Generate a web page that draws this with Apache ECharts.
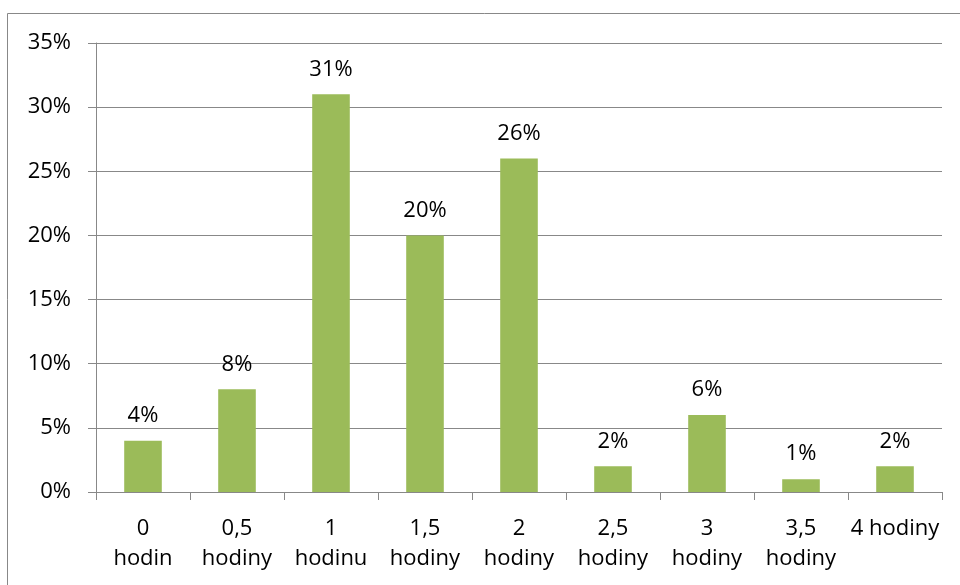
<!DOCTYPE html>
<html>
<head>
<meta charset="utf-8">
<script src="https://cdn.jsdelivr.net/npm/echarts@6/dist/echarts.min.js"></script>
<style>
  html, body { margin: 0; padding: 0; background: #fff; }
  #chart { width: 960px; height: 585px; }
</style>
</head>
<body>
<div id="chart"></div>
<script>
// Time spent, share of respondents
const categories = ['0\nhodin', '0,5\nhodiny', '1\nhodinu', '1,5\nhodiny', '2\nhodiny', '2,5\nhodiny', '3\nhodiny', '3,5\nhodiny', '4 hodiny'];
const shares = [4, 8, 31, 20, 26, 2, 6, 1, 2];
const yMin = 0;
const yMax = 35;
const yStep = 5;

const font = 'Open Sans';
const gridColor = '#888888';

const chart = echarts.init(document.getElementById('chart'), null, { renderer: 'canvas' });
chart.setOption({
  animation: false,
  backgroundColor: '#ffffff',
  textStyle: { fontFamily: font },
  grid: { left: 96, right: 18, top: 43, bottom: 93, containLabel: false },
  graphic: [{
    type: 'rect',
    shape: { x: 7.5, y: 13.5, width: 980, height: 600 },
    style: { fill: 'none', stroke: gridColor, lineWidth: 1 },
    silent: true,
    z: -1
  }],
  xAxis: {
    type: 'category',
    data: categories,
    axisLine: { show: true, lineStyle: { color: gridColor, width: 1 } },
    axisTick: { show: true, alignWithLabel: false, length: 8, lineStyle: { color: gridColor } },
    axisLabel: {
      interval: 0,
      margin: 22,
      color: '#000',
      fontFamily: font,
      fontSize: 22,
      lineHeight: 30
    },
    splitLine: { show: false }
  },
  yAxis: {
    type: 'value',
    min: yMin,
    max: yMax,
    interval: yStep,
    axisLine: { show: true, lineStyle: { color: gridColor, width: 1 } },
    axisTick: { show: true, length: 8, lineStyle: { color: gridColor } },
    axisLabel: {
      margin: 25,
      color: '#000',
      fontFamily: font,
      fontSize: 22,
      formatter: v => v + '%'
    },
    splitLine: { show: true, lineStyle: { color: gridColor, width: 1 } }
  },
  series: [{
    type: 'bar',
    data: shares,
    barWidth: '40%',
    itemStyle: { color: '#9BBB59' },
    label: {
      show: true,
      position: 'top',
      distance: 14,
      color: '#000',
      fontFamily: font,
      fontSize: 22,
      formatter: p => p.value + '%'
    }
  }]
});
</script>
</body>
</html>
